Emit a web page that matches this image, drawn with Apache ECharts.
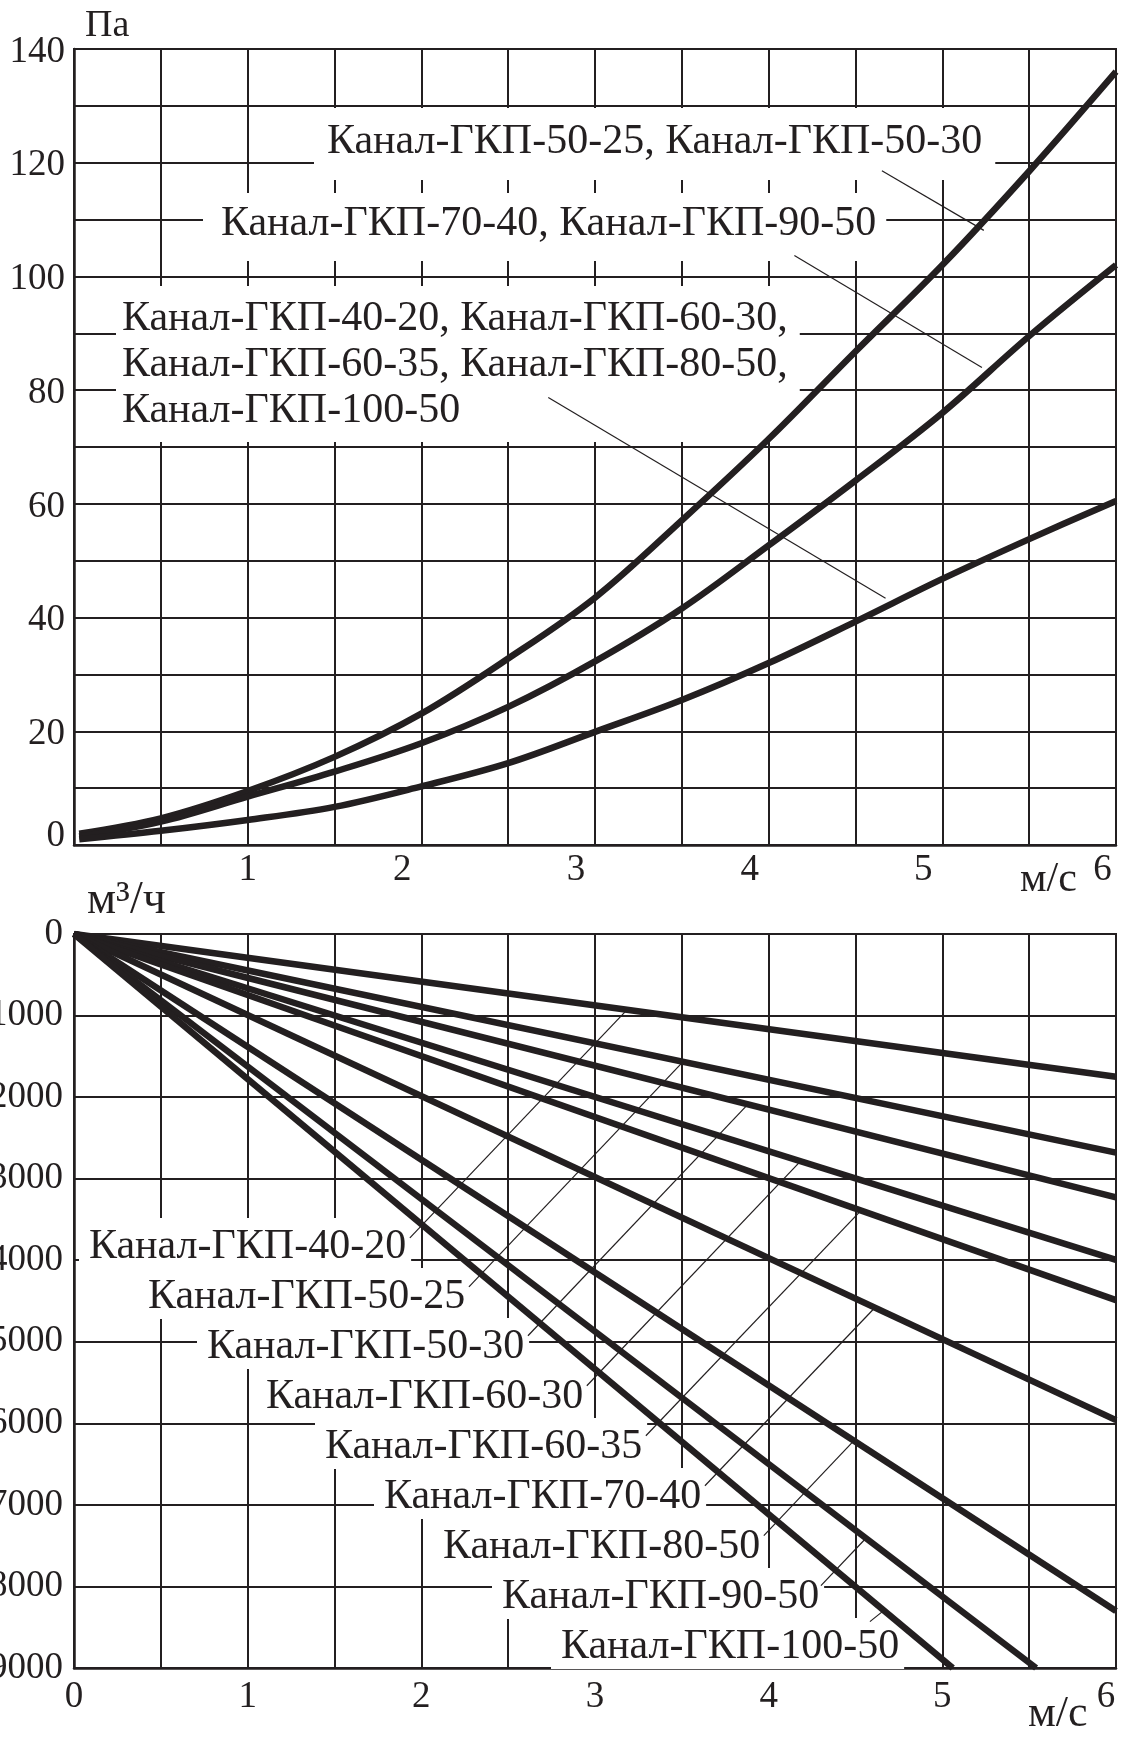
<!DOCTYPE html>
<html><head><meta charset="utf-8">
<script src="https://cdn.jsdelivr.net/npm/echarts@6/dist/echarts.min.js"></script>
<style>html,body{margin:0;padding:0;background:#fff}#c{width:1122px;height:1740px}</style>
</head><body><div id="c"></div>
<script>
// ---------- data ----------
const velocity = [0.03, 0.5, 1, 1.5, 2, 2.5, 3, 3.5, 4, 4.5, 5, 5.5, 6];
const pressureA = [2, 4.7, 9.5, 15.5, 23.1, 32.8, 43.5, 57.1, 71.4, 86.8, 102, 118.5, 136];
const pressureB = [1.5, 4.1, 8.5, 12.9, 17.9, 24.3, 32.3, 41.6, 52.7, 64.1, 76, 89.5, 102];
const pressureC = [1, 2.5, 4.4, 6.7, 10.3, 14.4, 19.9, 25.5, 32, 39.3, 46.8, 53.8, 60.5];
const pressureGroupNames = [
  'Канал-ГКП-50-25, Канал-ГКП-50-30',
  'Канал-ГКП-70-40, Канал-ГКП-90-50',
  'Канал-ГКП-40-20, Канал-ГКП-60-30,\nКанал-ГКП-60-35, Канал-ГКП-80-50,\nКанал-ГКП-100-50'
];
const pressureLeaders = [
  [[4.652, 118.6], [5.239, 108.1]],
  [[4.148, 103.7], [5.228, 84.0]],
  [[2.731, 78.7], [4.673, 43.4]]
];
const ductNames = ['Канал-ГКП-40-20', 'Канал-ГКП-50-25', 'Канал-ГКП-50-30', 'Канал-ГКП-60-30',
  'Канал-ГКП-60-35', 'Канал-ГКП-70-40', 'Канал-ГКП-80-50', 'Канал-ГКП-90-50', 'Канал-ГКП-100-50'];
const flowEndVelocity = [6, 6, 6, 6, 6, 6, 6, 5.54, 5.06];
const flowEndValue = [1750, 2680, 3230, 3995, 4490, 5960, 8300, 9000, 9000];
const flowLeaders = [
  [[1.934, 3725], [3.184, 931]],
  [[2.274, 4326], [3.506, 1569]],
  [[2.614, 4926], [3.880, 2089]],
  [[2.953, 5539], [4.185, 2782]],
  [[3.293, 6152], [4.531, 3391]],
  [[3.633, 6765], [4.611, 4583]],
  [[3.972, 7377], [4.491, 6213]],
  [[4.301, 7990], [4.560, 7409]],
  [[4.583, 8431], [4.669, 8284]]
];
const pressureTicks = [0, 20, 40, 60, 80, 100, 120, 140];
const velocityTicks = [0, 1, 2, 3, 4, 5, 6];

// ---------- style ----------
const INK = '#231f20';
const FF = '"Liberation Serif", "DejaVu Serif", serif';
const FS = 37;
const LFS = 42;

const chart = echarts.init(document.getElementById('c'));

const gridLine = { show: true, lineStyle: { color: INK, width: 2 } };
const axisLine = { show: true, onZero: false, lineStyle: { color: INK, width: 2.5 } };

function label(text, left, baseline, pad) {
  const p = pad || [8, 6, 1, 10];
  return {
    type: 'text', z: 5, x: left - p[3], y: baseline - Math.round(LFS * 0.32) - LFS / 2 - p[0], silent: true,
    style: { text: text, font: LFS + 'px ' + FF, fill: INK, backgroundColor: '#fff', padding: p }
  };
}
function unit(text, left, baseline, size) {
  return { type: 'text', z: 5, x: left, y: baseline - Math.round(size * 0.32) - size / 2, silent: true,
    style: { text: text, font: size + 'px ' + FF, fill: INK } };
}

const series = [];
[pressureA, pressureB, pressureC].forEach((arr) => {
  series.push({ type: 'line', xAxisIndex: 0, yAxisIndex: 0, smooth: 0.35, symbol: 'none', silent: true, z: 10,
    lineStyle: { color: INK, width: 6.5 }, data: velocity.map((v, i) => [v, arr[i]]) });
});
pressureLeaders.forEach((seg) => {
  series.push({ type: 'line', xAxisIndex: 0, yAxisIndex: 0, symbol: 'none', silent: true, z: 6,
    lineStyle: { color: INK, width: 1.2 }, data: seg });
});
ductNames.forEach((n, i) => {
  series.push({ name: n, type: 'line', xAxisIndex: 1, yAxisIndex: 1, symbol: 'none', silent: true, z: 10,
    lineStyle: { color: INK, width: 6.5 }, data: [[0, 0], [flowEndVelocity[i], flowEndValue[i]]] });
});
flowLeaders.forEach((seg) => {
  series.push({ type: 'line', xAxisIndex: 1, yAxisIndex: 1, symbol: 'none', silent: true, z: 6,
    lineStyle: { color: INK, width: 1.2 }, data: seg });
});

const graphics = [
  label(pressureGroupNames[0], 327, 155, [13, 13, 17, 13]),
  label(pressureGroupNames[1], 221, 237, [10, 10, 16, 18]),
  label(pressureGroupNames[2], 122, 330, [10, 12, 8, 6]),
  unit('Па', 85, 38, 38),
  unit('м/с', 1020, 893, 42),
  unit('м³/ч', 87, 916, 46),
  unit('м/с', 1028, 1728, 44)
];
graphics[2].style.lineHeight = 46;
ductNames.forEach((n, i) => {
  graphics.push(label(n, 89 + 59 * i, 1260 + 50 * i, [8, 5, 1, 10]));
});

const option = {
  animation: false,
  backgroundColor: '#fff',
  grid: [
    { left: 74, top: 49, width: 1042, height: 796, show: true, borderColor: INK, borderWidth: 2,
      containLabel: false, outerBoundsMode: 'none' },
    { left: 74, top: 934, width: 1042, height: 734, show: true, borderColor: INK, borderWidth: 2,
      containLabel: false, outerBoundsMode: 'none' }
  ],
  xAxis: [
    { type: 'value', gridIndex: 0, min: 0, max: 6, interval: 0.5,
      axisLine: axisLine, axisTick: { show: false }, splitLine: gridLine,
      axisLabel: { margin: 7, color: INK, fontFamily: FF, fontSize: FS, showMinLabel: true, showMaxLabel: true,
        formatter: (v) => {
          if (!velocityTicks.includes(v) || v === 0) return '';
          if (v === 6) return '{six|6}';
          if (v === 1) return '{a|1}';
          return '{b|' + v + '}';
        },
        rich: {
          a: { fontFamily: FF, fontSize: FS, color: INK },
          b: { fontFamily: FF, fontSize: FS, color: INK, padding: [0, 38, 0, 0] },
          six: { fontFamily: FF, fontSize: FS, color: INK, padding: [0, 27, 0, 0] }
        } } },
    { type: 'value', gridIndex: 1, min: 0, max: 6, interval: 0.5,
      axisLine: axisLine, axisTick: { show: false }, splitLine: gridLine,
      axisLabel: { margin: 11, color: INK, fontFamily: FF, fontSize: FS, showMinLabel: true, showMaxLabel: true,
        formatter: (v) => {
          if (!velocityTicks.includes(v)) return '';
          if (v === 6) return '{six|6}';
          return '{a|' + v + '}';
        },
        rich: {
          a: { fontFamily: FF, fontSize: FS, color: INK },
          six: { fontFamily: FF, fontSize: FS, color: INK, padding: [0, 20, 0, 0] }
        } } }
  ],
  yAxis: [
    { type: 'value', gridIndex: 0, min: 0, max: 140, interval: 10,
      axisLine: axisLine, axisTick: { show: false }, splitLine: gridLine,
      axisLabel: { margin: 9, color: INK, fontFamily: FF, fontSize: FS, showMinLabel: true, showMaxLabel: true,
        formatter: (v) => pressureTicks.includes(v) ? (v === 0 ? '{z|0}' : '{a|' + v + '}') : '',
        rich: {
          a: { fontFamily: FF, fontSize: FS, color: INK, padding: [6, 0, 0, 0] },
          z: { fontFamily: FF, fontSize: FS, color: INK, padding: [0, 0, 18, 0] }
        } } },
    { type: 'value', gridIndex: 1, min: 0, max: 9000, interval: 1000, inverse: true,
      axisLine: axisLine, axisTick: { show: false }, splitLine: gridLine,
      axisLabel: { margin: 11, color: INK, fontFamily: FF, fontSize: FS, showMinLabel: true, showMaxLabel: true,
        formatter: (v) => String(v) } }
  ],
  series: series,
  graphic: { elements: graphics }
};
chart.setOption(option);
</script>
</body></html>
